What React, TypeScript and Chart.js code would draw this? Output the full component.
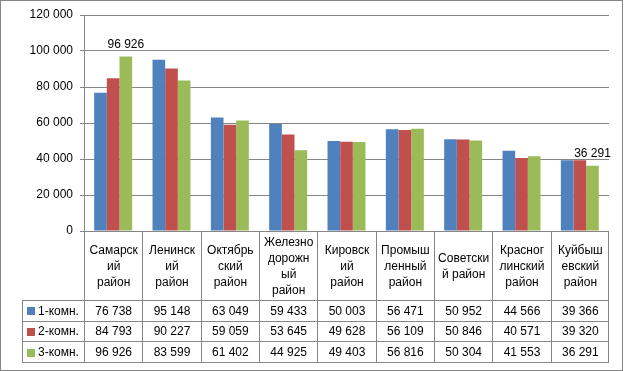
import React, { useEffect, useRef } from "react";
import { Chart, registerables } from "chart.js";

Chart.register(...registerables);

const categories: string[][] = [
  ["Самарск", "ий", "район"],
  ["Ленинск", "ий", "район"],
  ["Октябрь", "ский", "район"],
  ["Железно", "дорожн", "ый", "район"],
  ["Кировск", "ий", "район"],
  ["Промыш", "ленный", "район"],
  ["Советски", "й район"],
  ["Красног", "линский", "район"],
  ["Куйбыш", "евский", "район"],
];
const seriesNames = ["1-комн.", "2-комн.", "3-комн."];
const series1 = [76738, 95148, 63049, 59433, 50003, 56471, 50952, 44566, 39366];
const series2 = [84793, 90227, 59059, 53645, 49628, 56109, 50846, 40571, 39320];
const series3 = [96926, 83599, 61402, 44925, 49403, 56816, 50304, 41553, 36291];
const seriesColors = ["#4F81BD", "#C0504D", "#9BBB59"];
// [datasetIndex, categoryIndex] of bars that carry a value label
const labelledBars: [number, number][] = [
  [2, 0],
  [2, 8],
];
const yMin = 0;
const yMax = 120000;
const yStep = 20000;

const FONT = "'Liberation Sans', Arial, sans-serif";
const LINE = "#868686";

const fmt = (v: number) => String(Math.round(v)).replace(/\B(?=(\d{3})+(?!\d))/g, " ");

const tablePlugin = {
  id: "dataTable",
  afterDraw(chart: any) {
    const ctx = chart.ctx as CanvasRenderingContext2D;
    const xs = chart.scales.x;
    const area = chart.chartArea;
    const n = categories.length;
    const bounds: number[] = [];
    for (let i = 0; i <= n; i++) {
      if (i === 0) bounds.push(area.left);
      else if (i === n) bounds.push(area.right);
      else bounds.push((xs.getPixelForValue(i - 1) + xs.getPixelForValue(i)) / 2);
    }
    const headTop = area.bottom;
    const headBottom = 300;
    const rowH = 20.67;
    const rows = [headBottom, headBottom + rowH, headBottom + 2 * rowH, headBottom + 3 * rowH];
    const legendLeft = 22;
    const px = (v: number) => Math.round(v) + 0.5;

    ctx.save();
    ctx.strokeStyle = LINE;
    ctx.lineWidth = 1;
    ctx.beginPath();
    bounds.forEach((b, i) => {
      const x = i === n ? Math.round(b) - 0.5 : px(b);
      ctx.moveTo(x, headTop);
      ctx.lineTo(x, px(rows[3]) + 0.5);
    });
    rows.forEach((r) => {
      ctx.moveTo(legendLeft, px(r));
      ctx.lineTo(Math.round(area.right), px(r));
    });
    ctx.moveTo(legendLeft + 0.5, px(rows[0]));
    ctx.lineTo(legendLeft + 0.5, px(rows[3]));
    ctx.stroke();

    ctx.fillStyle = "#000";
    ctx.font = `12px ${FONT}`;
    ctx.textAlign = "center";
    ctx.textBaseline = "middle";
    const lh = 16;
    const headMid = (headTop + headBottom) / 2 + 1;
    categories.forEach((lines, i) => {
      const cx = (bounds[i] + bounds[i + 1]) / 2 + 0.5;
      const y0 = headMid - ((lines.length - 1) * lh) / 2;
      lines.forEach((t, k) => ctx.fillText(t, cx, y0 + k * lh));
    });

    const data = [series1, series2, series3];
    data.forEach((vals, r) => {
      const cy = rows[r] + rowH / 2 + 1;
      ctx.textAlign = "left";
      ctx.fillStyle = seriesColors[r];
      ctx.fillRect(27, Math.round(cy - 4), 8, 8);
      ctx.fillStyle = "#000";
      ctx.fillText(seriesNames[r], 38, cy);
      ctx.textAlign = "center";
      vals.forEach((v, i) => {
        const cx = (bounds[i] + bounds[i + 1]) / 2 + 0.5;
        ctx.fillText(fmt(v), cx, cy);
      });
    });

    // value labels above selected bars
    ctx.textAlign = "center";
    ctx.textBaseline = "alphabetic";
    labelledBars.forEach(([d, i]) => {
      const el = chart.getDatasetMeta(d).data[i];
      const v = chart.data.datasets[d].data[i];
      ctx.fillText(fmt(v), el.x, el.y - 9);
    });

    // outer border
    ctx.strokeStyle = LINE;
    ctx.strokeRect(0.5, 0.5, 622, 370);
    ctx.restore();
  },
};

export default function App() {
  const ref = useRef<HTMLCanvasElement | null>(null);
  useEffect(() => {
    document.body.style.margin = "0";
    if (!ref.current) return;
    const chart = new Chart(ref.current, {
      type: "bar",
      data: {
        labels: categories.map((c) => c.join(" ")),
        datasets: [series1, series2, series3].map((d, i) => ({
          label: seriesNames[i],
          data: d,
          backgroundColor: seriesColors[i],
          borderWidth: 0,
          categoryPercentage: 0.651,
          barPercentage: 1,
        })),
      },
      options: {
        animation: false,
        responsive: false,
        devicePixelRatio: 1,
        layout: { padding: { left: 0, top: 15, right: 15, bottom: 0 } },
        plugins: { legend: { display: false }, tooltip: { enabled: false } },
        scales: {
          x: {
            ticks: { display: false },
            grid: { display: false },
            border: { display: false },
            afterFit: (s: any) => {
              s.height = 140;
            },
          },
          y: {
            min: yMin,
            max: yMax,
            ticks: {
              stepSize: yStep,
              padding: 7,
              color: "#000",
              font: { family: FONT, size: 12 },
              callback: (v: any) => fmt(Number(v)),
            },
            grid: { color: LINE, drawTicks: true, tickLength: 4, lineWidth: 1 },
            border: { display: true, color: LINE },
            afterFit: (s: any) => {
              s.width = 84;
            },
          },
        },
      },
      plugins: [tablePlugin],
    });
    return () => chart.destroy();
  }, []);
  return (
    <div style={{ position: "fixed", left: 0, top: 0, width: 624, height: 371, background: "#fff" }}>
      <canvas ref={ref} width={624} height={371} />
    </div>
  );
}
